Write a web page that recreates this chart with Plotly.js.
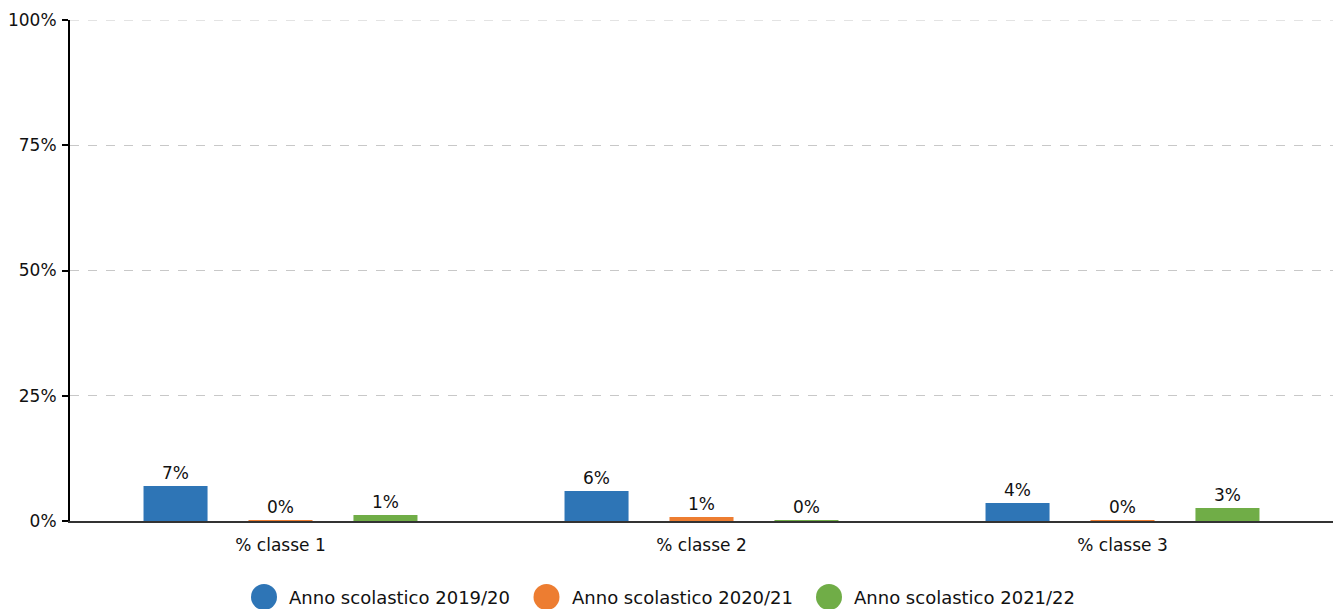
<!DOCTYPE html>
<html>
<head>
<meta charset="utf-8">
<script src="https://cdn.plot.ly/plotly-3.0.1.min.js"></script>
<style>html,body{margin:0;padding:0;background:#fff;}#chart{width:1333px;height:609px;}</style>
</head>
<body>
<div id="chart"></div>
<script>
const categories = ["% classe 1", "% classe 2", "% classe 3"];
const seriesNames = ["Anno scolastico 2019/20", "Anno scolastico 2020/21", "Anno scolastico 2021/22"];
const values2019 = [7.0, 6.0, 3.6];
const values2020 = [0.2, 0.8, 0.2];
const values2021 = [1.2, 0.2, 2.6];
const colors = ["#2E75B6", "#ED7D31", "#70AD47"];
const yTickVals = [0, 25, 50, 75, 100];
const yTickText = ["0%", "25%", "50%", "75%", "100%"];

const fam = "DejaVu Sans, Verdana, sans-serif";
const font = {family: fam, size: 17, color: "#111"};
const allValues = [values2019, values2020, values2021];

const traces = allValues.map((vals, i) => ({
  type: "bar",
  name: seriesNames[i],
  x: categories,
  y: vals,
  marker: {color: colors[i]},
  text: vals.map(v => Math.round(v) + "%"),
  textposition: "outside",
  cliponaxis: false,
  textfont: {family: fam, size: 17, color: "#111"},
  hoverinfo: "skip",
  showlegend: false
}));

const W = 1333, H = 609;
const ml = 70, mr = 0, mt = 20, mb = 88;
const pw = W - ml - mr, ph = H - mt - mb;
const toX = px => (px - ml) / pw;
const toY = py => (H - mb - py) / ph;

// custom legend with circle markers
const shapes = [];
const annotations = [];
const legendStartPx = 251, legendStepPx = 282.5, legendY = 597, r = 13;
seriesNames.forEach((name, i) => {
  const cx = legendStartPx + r + i * legendStepPx;
  shapes.push({type: "circle", xref: "paper", yref: "paper",
    x0: toX(cx - r), x1: toX(cx + r), y0: toY(legendY + r), y1: toY(legendY - r),
    fillcolor: colors[i], line: {width: 0}});
  annotations.push({xref: "paper", yref: "paper", x: toX(cx + r + 10), y: toY(legendY),
    xanchor: "left", yanchor: "middle", showarrow: false, text: name,
    font: {family: fam, size: 18, color: "#111"}});
});
// top gridline at 100%
shapes.push({type: "line", xref: "paper", yref: "y", x0: 0, x1: 1, y0: 100, y1: 100,
  line: {color: "#c8c8c8", width: 1, dash: "dash"}, layer: "below"});

const layout = {
  width: W, height: H,
  margin: {l: ml, r: mr, t: mt, b: mb},
  paper_bgcolor: "#fff", plot_bgcolor: "#fff",
  font: font,
  barmode: "group",
  bargap: 0.252,
  bargroupgap: 0.39,
  showlegend: false,
  xaxis: {
    type: "category",
    showgrid: false,
    showline: true, linecolor: "#333", linewidth: 2,
    ticks: "", tickfont: {family: fam, size: 17, color: "#111"},
    ticklabelstandoff: 8,
    zeroline: false
  },
  yaxis: {
    range: [0, 100],
    tickvals: yTickVals, ticktext: yTickText,
    showgrid: true, gridcolor: "#c8c8c8", griddash: "dash", gridwidth: 1,
    showline: true, linecolor: "#000", linewidth: 2,
    ticks: "outside", ticklen: 6, tickcolor: "#000", tickwidth: 2,
    tickfont: {family: fam, size: 17, color: "#111"},
    ticklabelstandoff: 2,
    zeroline: false, fixedrange: true
  },
  shapes: shapes,
  annotations: annotations
};

Plotly.newPlot("chart", traces, layout, {displayModeBar: false, staticPlot: true});
</script>
</body>
</html>
